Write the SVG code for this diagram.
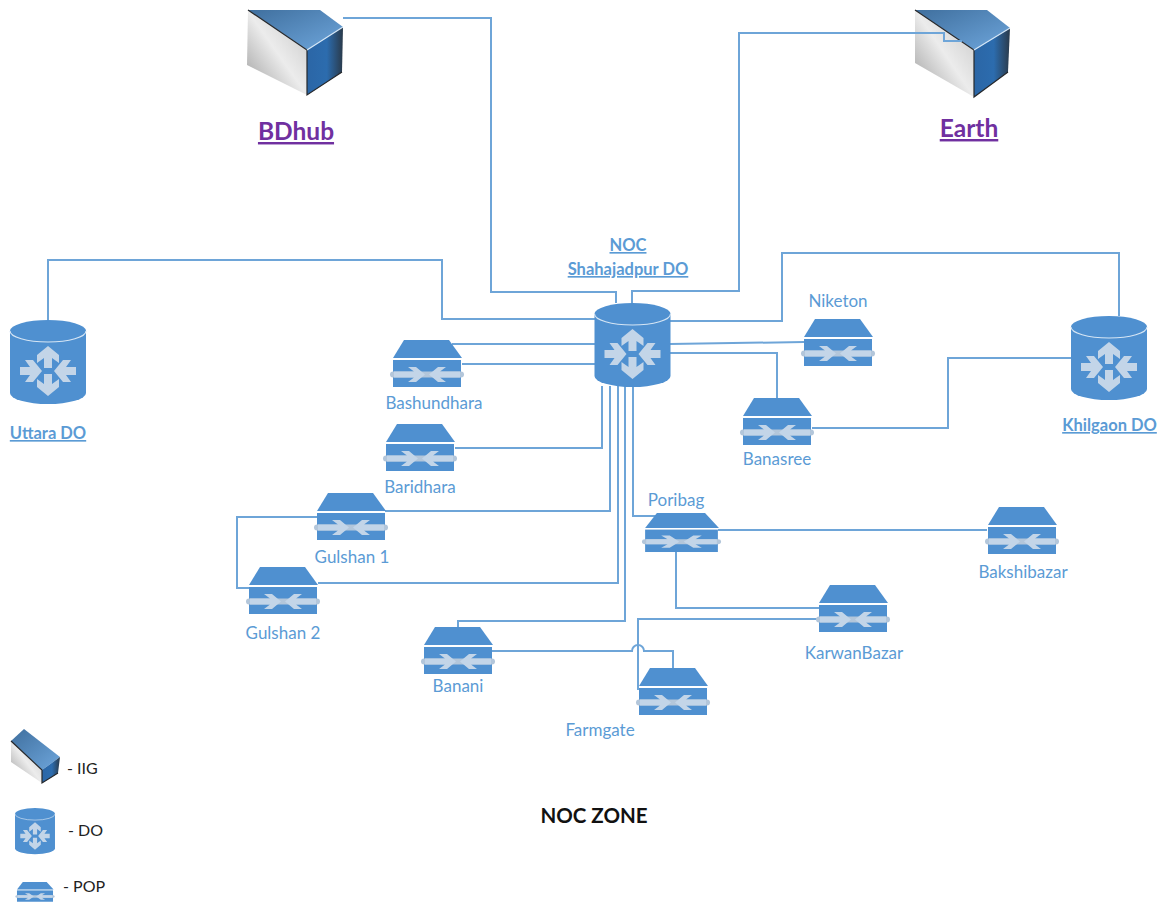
<svg xmlns="http://www.w3.org/2000/svg" xmlns:xlink="http://www.w3.org/1999/xlink" width="1164" height="903" viewBox="0 0 1164 903">
<style>
text{font-family:"Lato","Open Sans","Liberation Sans",sans-serif}
.lbl{font-size:17px;fill:#5b9bd5;text-anchor:middle}
.do{font-size:16.500px;font-weight:700;fill:#5b9bd5;text-anchor:middle;text-decoration:underline}
.iig{font-size:24.500px;font-weight:700;fill:#7030a0;text-anchor:middle;text-decoration:underline}
.leg{font-size:16px;fill:#222}
.zone{font-size:20.500px;font-weight:700;fill:#111;text-anchor:middle}
.edge{fill:none;stroke:#26282b;stroke-width:1.200}
.hi{fill:none;stroke:#d4e6f6;stroke-width:1.200}
#connectors path{fill:none;stroke:#6ea5d8;stroke-width:2}
</style>
<defs>
<linearGradient id="gTop" x1="0" y1="0" x2="1" y2="1"><stop offset="0" stop-color="#3f6f9e"/><stop offset="1" stop-color="#6ea6dc"/></linearGradient>
<linearGradient id="gSide" x1="0" y1="1" x2="1" y2="0"><stop offset="0" stop-color="#9c9c9c"/><stop offset=".5" stop-color="#ececec"/><stop offset="1" stop-color="#c4c4c4"/></linearGradient>
<linearGradient id="gFront" x1="0" y1="0" x2="1" y2="0"><stop offset="0" stop-color="#2b66a6"/><stop offset=".55" stop-color="#2c6cae"/><stop offset="1" stop-color="#2a3a4a"/></linearGradient>
<path id="arw" d="M-11,-4H-1L-6,-11H2L11,0L2,11H-6L-1,4H-11Z" fill="#c3d5e8"/>
<g id="pop">
<path d="M-23,0H22L35,18H-34Z" fill="#4f90d0"/>
<rect x="-34" y="20" width="68" height="27" fill="#4f90d0"/>
<rect x="-37" y="31.500" width="74" height="6" rx="3" fill="#b3c6da"/>
<path d="M-19,27H-11L-2,34.500L-11,42H-19L-13,37.500H-33V31.500H-13Z" fill="#c3d5e8"/>
<path d="M19,27H11L2,34.500L11,42H19L13,37.500H33V31.500H13Z" fill="#c3d5e8"/>
</g>
<g id="dob">
<path d="M-38,11V73A38,11 0 0 0 38,73V11A38,11 0 0 0 -38,11Z" fill="#4f90d0"/>
<path d="M-38,11A38,11 0 0 0 38,11" fill="none" stroke="#d5e5f4" stroke-width="1.200"/>
<use xlink:href="#arw" transform="translate(0,37) rotate(-90)"/>
<use xlink:href="#arw" transform="translate(0,65) rotate(90)"/>
<use xlink:href="#arw" transform="translate(-17,51)"/>
<use xlink:href="#arw" transform="translate(17,51) rotate(180)"/>
</g>
</defs>
<rect width="1164" height="903" fill="#fff"/>
<g id="iig-bdhub">
<path d="M248,10H320L343,27L307,50Z" fill="url(#gTop)"/>
<path d="M248,10L307,50V95L247,65Z" fill="url(#gSide)"/>
<path d="M307,50L343,27L342,72L307,95Z" fill="url(#gFront)"/>
<path class="edge" d="M248,10L307,50V95L342,72"/>
<path class="hi" d="M307,50L343,27"/>
<text class="iig" x="296" y="140">BDhub</text>
</g>
<g id="iig-earth">
<path d="M915,10H987L1010,28L974,50Z" fill="url(#gTop)"/>
<path d="M915,10L974,50V97L915,63Z" fill="url(#gSide)"/>
<path d="M974,50L1010,28L1008,72L974,97Z" fill="url(#gFront)"/>
<path class="edge" d="M915,10L974,50V97L1008,72"/>
<path class="hi" d="M974,50L1010,28"/>
<text class="iig" x="969" y="137">Earth</text>
</g>
<g id="connectors">
<path d="M343,18H491V292H616V303"/>
<path d="M962,41H944V33H739V291H632V303"/>
<path d="M48,320V260H442V319H595"/>
<path d="M1119,316V253H782V321H670"/>
<path d="M670,344L804,342"/>
<path d="M670,353H777V398"/>
<path d="M1071,358H948V428H812"/>
<path d="M452,344H595"/>
<path d="M462,364H595"/>
<path d="M455,448H602V386"/>
<path d="M385,511H610V386"/>
<path d="M318,583H618V386"/>
<path d="M458,627V621H625V386"/>
<path d="M633,386V516H660"/>
<path d="M317,517H237V588H249"/>
<path d="M718,530H987"/>
<path d="M676,552V608H819"/>
<path d="M819,619H638V690"/>
<path d="M492,651H632A6,6 0 0 1 644,651H673V668"/>
</g>
<g id="do-noc"><use xlink:href="#dob" transform="translate(632.500,303)"/><text class="do" x="628" y="251">NOC</text><text class="do" x="628" y="275">Shahajadpur DO</text></g>
<g id="do-uttara"><use xlink:href="#dob" transform="translate(48,320)"/><text class="do" x="48" y="439">Uttara DO</text></g>
<g id="do-khilgaon"><use xlink:href="#dob" transform="translate(1109,316)"/><text class="do" x="1109.500" y="431">Khilgaon DO</text></g>
<g id="pop-bashundhara"><use xlink:href="#pop" transform="translate(427,340)"/><text class="lbl" x="434" y="409">Bashundhara</text></g>
<g id="pop-baridhara"><use xlink:href="#pop" transform="translate(420,424)"/><text class="lbl" x="420" y="493">Baridhara</text></g>
<g id="pop-gulshan1"><use xlink:href="#pop" transform="translate(351,493)"/><text class="lbl" x="352" y="563">Gulshan 1</text></g>
<g id="pop-gulshan2"><use xlink:href="#pop" transform="translate(283,567)"/><text class="lbl" x="283" y="639">Gulshan 2</text></g>
<g id="pop-banani"><use xlink:href="#pop" transform="translate(458,627)"/><text class="lbl" x="458" y="692">Banani</text></g>
<g id="pop-farmgate"><use xlink:href="#pop" transform="translate(673,668)"/><text class="lbl" x="600" y="736">Farmgate</text></g>
<g id="pop-poribag"><use xlink:href="#pop" transform="translate(681.500,513) scale(1.070,.830)"/><text class="lbl" x="676" y="506">Poribag</text></g>
<g id="pop-bakshibazar"><use xlink:href="#pop" transform="translate(1022,507)"/><text class="lbl" x="1023" y="578">Bakshibazar</text></g>
<g id="pop-karwanbazar"><use xlink:href="#pop" transform="translate(853,585)"/><text class="lbl" x="854" y="659">KarwanBazar</text></g>
<g id="pop-niketon"><use xlink:href="#pop" transform="translate(838,319)"/><text class="lbl" x="838" y="307">Niketon</text></g>
<g id="pop-banasree"><use xlink:href="#pop" transform="translate(777,398)"/><text class="lbl" x="777" y="465">Banasree</text></g>
<g id="legend">
<path d="M11,741L24,729L60,757L42,770Z" fill="url(#gTop)"/>
<path d="M11,741L42,770V783L11,762Z" fill="url(#gSide)"/>
<path d="M42,770L60,757L58,773L42,783Z" fill="url(#gFront)"/>
<path class="edge" d="M11,741L42,770V783L58,773"/>
<text class="leg" x="67" y="774">- IIG</text>
<use xlink:href="#dob" transform="translate(35,808) scale(.526,.55)"/>
<text class="leg" x="68" y="836">- DO</text>
<use xlink:href="#pop" transform="translate(35,882) scale(.530,.420)"/>
<text class="leg" x="63" y="892">- POP</text>
</g>
<text class="zone" x="594" y="823">NOC ZONE</text>
</svg>
